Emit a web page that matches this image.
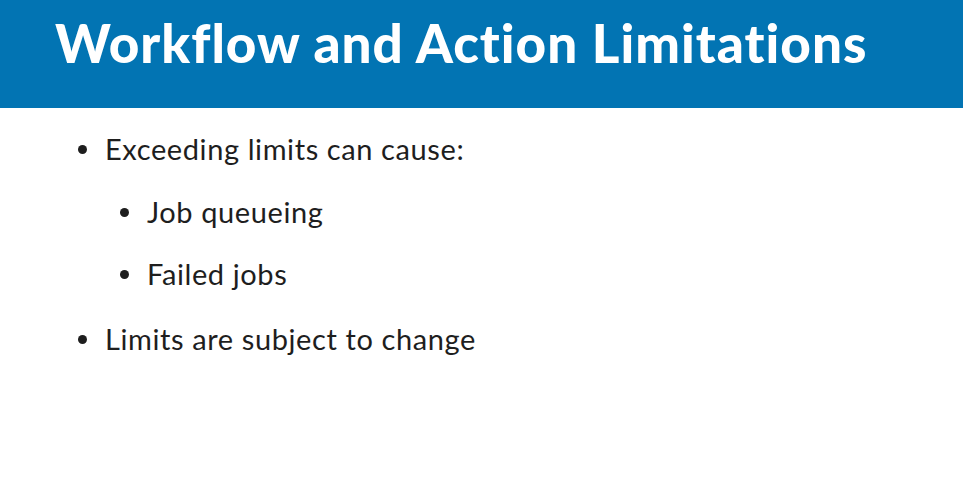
<!DOCTYPE html>
<html>
<head>
<meta charset="utf-8">
<script src="https://cdn.jsdelivr.net/npm/chart.js@4"></script>
<style>
  html, body { margin: 0; padding: 0; width: 963px; height: 494px; background: #fff; overflow: hidden; }
  .header { position: absolute; left: 0; top: 0; width: 963px; height: 108px; background: #0274b3; }
  .title { position: absolute; left: 55px; top: 11px; font-family: Lato, sans-serif; font-weight: 900;
           font-size: 53px; color: #fff; letter-spacing: 1px; }
  .item { position: absolute; font-family: Lato, sans-serif; font-size: 29px; color: #1e1e1e; line-height: 1;
          letter-spacing: 0.6px; }
  .item::before { content: ""; position: absolute; width: 9px; height: 9px; border-radius: 50%;
                  background: #1e1e1e; left: -27px; top: 11px; }
</style>
</head>
<body>
<div class="header"><div class="title" id="title"></div></div>
<div id="list"></div>
<script>
const titleText = 'Workflow and Action Limitations';
const bulletTexts = ['Exceeding limits can cause:', 'Job queueing', 'Failed jobs', 'Limits are subject to change'];
const bulletLevels = [0, 1, 1, 0];
const bulletTops = [134, 197, 259, 324];

document.getElementById('title').textContent = titleText;
const list = document.getElementById('list');
bulletTexts.forEach((t, i) => {
  const d = document.createElement('div');
  d.className = 'item';
  d.style.left = (bulletLevels[i] ? 147 : 105) + 'px';
  d.style.top = bulletTops[i] + 'px';
  d.textContent = t;
  list.appendChild(d);
});
</script>
</body>
</html>
